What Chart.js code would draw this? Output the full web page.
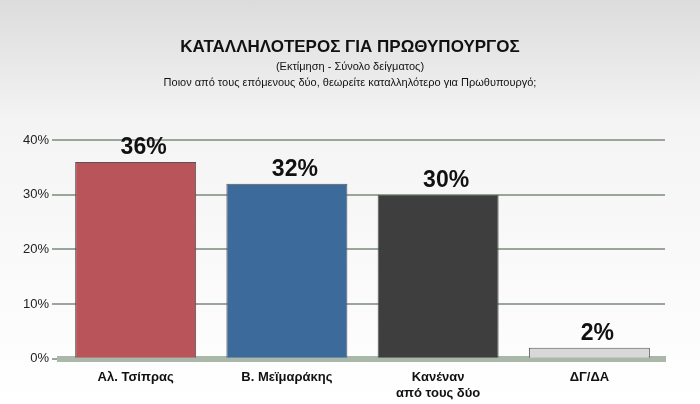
<!DOCTYPE html>
<html><head><meta charset="utf-8">
<script src="https://cdn.jsdelivr.net/npm/chart.js@4"></script>
<style>html,body{margin:0;padding:0;}body{width:700px;height:404px;background:linear-gradient(#dcdcdc,#f4f4f4 30%,#ffffff);}</style>
</head><body><canvas id="c" width="700" height="404"></canvas>
<script>
const categories=[["Αλ. Τσίπρας"],["Β. Μεϊμαράκης"],["Κανέναν","από τους δύο"],["ΔΓ/ΔΑ"]];
const values=[36,32,30,2];
const labels=["36%","32%","30%","2%"];
const colorPairs=[["#f5b3b5","#b9545a"],["#a9c8e8","#3c6a9a"],["#a0a0a0","#3e3e3e"],["#ffffff","#d8d8d8"]];
const textPlugin={id:'txt',afterDraw(ch){const c=ch.ctx;c.save();c.fillStyle='#111';c.textAlign='center';
c.font='bold 17px Arial, "Liberation Sans"';c.fillText("ΚΑΤΑΛΛΗΛΟΤΕΡΟΣ ΓΙΑ ΠΡΩΘΥΠΟΥΡΓΟΣ",350,52);
c.font='11px Arial, "Liberation Sans"';c.fillText("(Εκτίμηση - Σύνολο δείγματος)",350,70);
c.fillText("Ποιον από τους επόμενους δύο, θεωρείτε καταλληλότερο για Πρωθυπουργό;",350,86);
const m=ch.getDatasetMeta(0);c.font='bold 23px Arial, "Liberation Sans"';
m.data.forEach((b,i)=>{c.fillText(labels[i],b.x+8,b.y-8);});c.restore();}};
new Chart(document.getElementById('c'),{type:'bar',
data:{labels:categories,datasets:[{data:values,
backgroundColor:(ctx)=>{const ch=ctx.chart;const el=ctx.element;const p=colorPairs[ctx.dataIndex];
if(!el||!ch.chartArea||!Number.isFinite(el.x)||!Number.isFinite(el.width))return p[1];
const g=ch.ctx.createLinearGradient(el.x-el.width/2,0,el.x+el.width/2,0);g.addColorStop(0,p[0]);g.addColorStop(1,p[1]);return g;},
borderColor:'#555',borderWidth:1,categoryPercentage:0.8,barPercentage:1}]},
options:{responsive:false,animation:false,
layout:{padding:{top:140,right:35,left:20,bottom:0}},
plugins:{legend:{display:false},tooltip:{enabled:false}},
scales:{y:{min:0,max:40,ticks:{stepSize:10,callback:v=>v+'%',color:'#222',font:{size:13,family:'Arial'}},grid:{color:'#9aa69a',lineWidth:2},border:{display:false}},
x:{grid:{display:false},ticks:{color:'#111',font:{size:13,weight:'bold',family:'Arial'}},border:{color:'#aab8aa',width:6}}}}
,plugins:[textPlugin]});
</script></body></html>
